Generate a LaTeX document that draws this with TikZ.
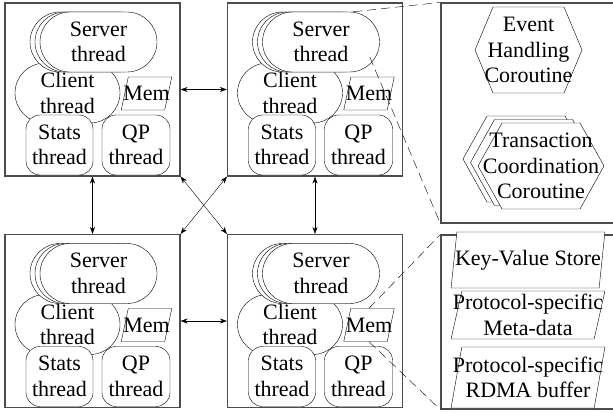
\documentclass[tikz,border=0pt]{standalone}
\usepackage{fontspec}
\setmainfont{Liberation Serif}
\usetikzlibrary{calc, shapes.misc, shapes.geometric, shadows, arrows.meta}

\tikzset{
  every node/.style={font=\fontsize{22}{25.5}\selectfont},
  box/.style={draw=black!70, line width=1.2pt, minimum width=175pt, minimum height=173pt, inner sep=0pt},
  panel/.style={draw=black!70, line width=1.2pt, minimum width=175pt, inner sep=0pt},
  thr/.style={draw, fill=white, align=center, inner sep=0pt, rounded rectangle, minimum height=60pt},
  barrel/.style={rectangle, rounded corners=14pt},
  srvcopy/.style={copy shadow={shadow xshift=-10pt, shadow yshift=0pt, fill=white, draw=black},
                  copy shadow={shadow xshift=-5pt, shadow yshift=0pt, fill=white, draw=black}},
  mem/.style={draw, fill=white, trapezium, trapezium left angle=78, trapezium right angle=102,
              text height=16pt, text depth=2pt, inner xsep=-5pt, inner ysep=7.5pt},
  store/.style={draw, fill=white, align=center, trapezium, trapezium left angle=76, trapezium right angle=104,
                trapezium stretches=true, minimum width=154pt, inner xsep=-12pt, inner ysep=0pt},
  dbl/.style={{Stealth[length=7pt,width=5pt]}-{Stealth[length=7pt,width=5pt]}},
  zoomline/.style={dash pattern=on 9pt off 5pt},
}

% one machine: #1 name, #2 centre
\newcommand{\drawmachine}[2]{%
  \node[box] (#1) at (#2) {};
  \begin{scope}[shift={(#2)}]
  \node[thr, minimum width=105pt] (#1c) at (-25,3.5) {Client\\thread};
  \node[thr, srvcopy, minimum width=117pt] (#1s) at (6,-47.5) {Server\\thread};
  \node[thr, barrel, minimum width=67pt] (#1t) at (-33,55.5) {Stats\\thread};
  \node[thr, barrel, minimum width=68pt] (#1q) at (43.5,55.5) {QP\\thread};
  \node[mem] (#1m) at (54,4) {Mem};
  \end{scope}}

% hexagon: #1 centre, #2 half width, #3 half height, #4 slant
\newcommand{\hexagonat}[4]{%
  \draw[fill=white, shift={(#1)}] (-#2,0) -- (-#2+#4,-#3) -- (#2-#4,-#3) -- (#2,0)
    -- (#2-#4,#3) -- (-#2+#4,#3) -- cycle;}

\begin{document}
\begin{tikzpicture}[x=1pt, y=-1pt]
\useasboundingbox[fill=white] (0,0) rectangle (613,416);

%machines
\drawmachine{m1}{92.5,89.5}
\drawmachine{m2}{315,89.5}
\drawmachine{m3}{92.5,321}
\drawmachine{m4}{315,321}

\draw[dbl] (m1) -- (m2);
\draw[dbl] (m3) -- (m4);
\draw[dbl] (m1) -- (m3);
\draw[dbl] (m2) -- (m4);
\draw[dbl] (m1.south east) -- (m4.north west);
\draw[dbl] (m2.south west) -- (m3.north east);

%coroutines
\node[panel, minimum height=220pt] (pt) at (528.5,113) {};
\coordinate (evc) at (528.5,50);
\coordinate (txc) at (541,166);
\hexagonat{evc}{53.5}{43}{18}
\hexagonat{$(txc)+(-15,-7)$}{63}{43}{24}
\hexagonat{$(txc)+(-7.5,-3.5)$}{63}{43}{24}
\hexagonat{txc}{63}{43}{24}
\node[align=center] (ev) at (evc) {Event\\Handling\\Coroutine};
\node[align=center] (tx) at (txc) {Transaction\\Coordination\\Coroutine};

%memory
\node[panel, minimum height=174pt] (pb) at (528.5,322) {};
\node[store, minimum height=56pt] (kv) at (528,260) {Key-Value Store};
\node[store, minimum height=48pt] (md) at (528,315) {Protocol-specific\\Meta-data};
\node[store, minimum height=61pt] (rb) at (528,377.5) {Protocol-specific\\RDMA buffer};

%zoom lines
\coordinate (m2sup) at ($(m2s.north)+(32,0)$);
\coordinate (m2sdn) at ($(m2s.east)+(-10,15)$);
\draw[zoomline] (m2sup) -- (pt.north west);
\draw[zoomline] (m2sdn) -- (pt.south west);
\draw[zoomline] (m4m.north) -- (pb.north west);
\draw[zoomline] (m4m.south) -- (pb.south west);

\end{tikzpicture}
\end{document}
